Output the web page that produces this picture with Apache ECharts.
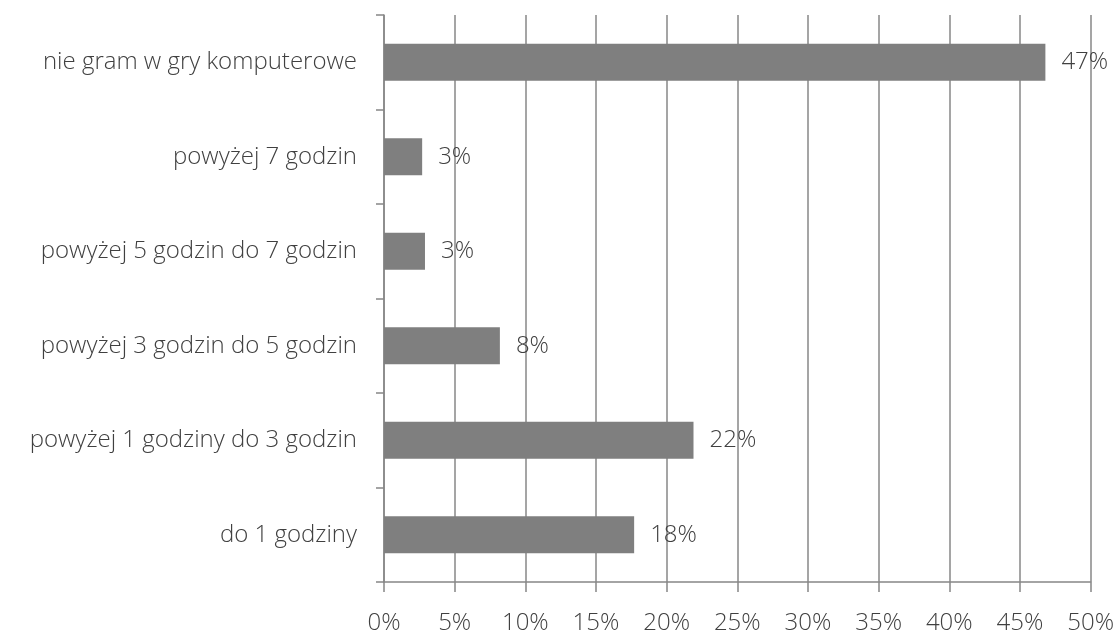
<!DOCTYPE html>
<html>
<head>
<meta charset="utf-8">
<script src="https://cdn.jsdelivr.net/npm/echarts@6/dist/echarts.min.js"></script>
<style>
html,body{margin:0;padding:0;background:#fff;}
#chart{width:1117px;height:635px;}
</style>
</head>
<body>
<div id="chart"></div>
<script>
const categories = [
  "do 1 godziny",
  "powyżej 1 godziny do 3 godzin",
  "powyżej 3 godzin do 5 godzin",
  "powyżej 5 godzin do 7 godzin",
  "powyżej 7 godzin",
  "nie gram w gry komputerowe"
];
const values = [17.7, 21.9, 8.2, 2.9, 2.7, 46.8];
const valueLabels = ["18%", "22%", "8%", "3%", "3%", "47%"];

const FONT = "'Open Sans', 'Segoe UI', sans-serif";
const TXT = "#404040";
const LINE = "#878787";

const chart = echarts.init(document.getElementById('chart'), null, {renderer: 'canvas'});
chart.setOption({
  animation: false,
  backgroundColor: '#ffffff',
  grid: {left: 384, right: 26, top: 15, bottom: 50, containLabel: false},
  xAxis: {
    type: 'value', min: 0, max: 50, interval: 5,
    axisLine: {show: true, lineStyle: {color: LINE, width: 1.5}},
    axisTick: {show: true, length: 10, lineStyle: {color: LINE, width: 1.5}},
    splitLine: {show: true, lineStyle: {color: LINE, width: 1.5}},
    axisLabel: {formatter: '{value}%', color: TXT, fontFamily: FONT, fontWeight: 300, fontSize: 24, margin: 29}
  },
  yAxis: {
    type: 'category', data: categories,
    axisLine: {show: true, lineStyle: {color: LINE, width: 1.5}},
    axisTick: {show: true, length: 8, lineStyle: {color: LINE, width: 1.5}},
    axisLabel: {color: TXT, fontFamily: FONT, fontWeight: 300, fontSize: 24, margin: 27}
  },
  series: [{
    type: 'bar',
    data: values,
    barCategoryGap: '61%',
    itemStyle: {color: '#7f7f7f'},
    label: {
      show: true, position: 'right', distance: 16,
      color: TXT, fontFamily: FONT, fontWeight: 300, fontSize: 24,
      formatter: p => valueLabels[p.dataIndex]
    }
  }]
});
</script>
</body>
</html>
